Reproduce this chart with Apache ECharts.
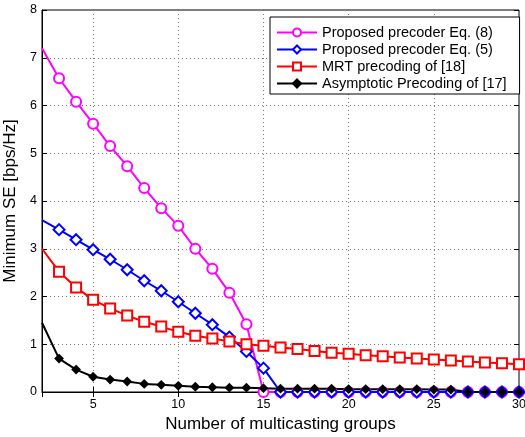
<!DOCTYPE html>
<html>
<head>
<meta charset="utf-8">
<script src="https://cdn.jsdelivr.net/npm/echarts@6/dist/echarts.min.js"></script>
<style>
    html, body { margin: 0; padding: 0; background: #fff; }
    #chart { width: 525px; height: 437px; }
</style>
</head>
<body>
<div id="chart"></div>
<script>
    // number of multicasting groups (x = 2..30)
    var groups = [];
    for (var g = 2; g <= 30; g++) groups.push(g);

    // Minimum SE [bps/Hz]
    var eq8 = [7.2, 6.57, 6.08, 5.62, 5.15, 4.73, 4.27, 3.85, 3.48, 3.0, 2.58, 2.08, 1.42, 0,
        0, 0, 0, 0, 0, 0, 0, 0, 0, 0, 0, 0, 0, 0, 0];
    var eq5 = [3.6, 3.4, 3.19, 2.98, 2.78, 2.56, 2.33, 2.12, 1.89, 1.65, 1.41, 1.15, 0.85, 0.5,
        0, 0, 0, 0, 0, 0, 0, 0, 0, 0, 0, 0, 0, 0, 0];
    var mrt = [3.0, 2.52, 2.19, 1.93, 1.75, 1.6, 1.47, 1.37, 1.26, 1.18, 1.12, 1.06, 1.0, 0.97,
        0.93, 0.9, 0.86, 0.82, 0.8, 0.77, 0.75, 0.72, 0.7, 0.68, 0.66, 0.64, 0.62, 0.6, 0.58];
    var asym = [1.45, 0.7, 0.47, 0.32, 0.26, 0.22, 0.17, 0.15, 0.13, 0.11, 0.1, 0.09, 0.09, 0.08,
        0.07, 0.07, 0.07, 0.07, 0.06, 0.06, 0.06, 0.06, 0.06, 0.05, 0.05, 0, 0, 0, 0];

    var names = ['Proposed precoder Eq. (8)', 'Proposed precoder Eq. (5)',
        'MRT precoding of [18]', 'Asymptotic Precoding of [17]'];

    var font = 'Liberation Sans, Arial, sans-serif';

    // first point sits on the left border, marker is clipped there in the original
    function pairs(vals) {
        return vals.map(function (v, i) {
            var p = {value: [groups[i], v]};
            if (i === 0) p.symbol = 'none';
            return p;
        });
    }

    function makeSeries(name, vals, color, symbol, size, filled) {
        return {
            name: name,
            type: 'line',
            data: pairs(vals),
            symbol: symbol,
            symbolSize: size,
            showAllSymbol: true,
            clip: false,
            lineStyle: {color: color, width: 2},
            itemStyle: {color: filled ? color : '#fff', borderColor: color, borderWidth: 2},
            emphasis: {disabled: true},
            animation: false
        };
    }

    var chart = echarts.init(document.getElementById('chart'));

    var tickStyle = {show: true, inside: true, length: 5, lineStyle: {color: '#000'}};

    chart.setOption({
        backgroundColor: '#fff',
        textStyle: {fontFamily: font},
        grid: {
            left: 42, right: 6, top: 10, bottom: 45,
            outerBoundsMode: 'none', containLabel: false,
            show: true, borderColor: '#000', borderWidth: 1
        },
        legend: {
            orient: 'vertical',
            left: 270,
            top: 17,
            padding: [8, 13, 3, 6],
            itemWidth: 40,
            itemHeight: 10,
            itemGap: 2,
            backgroundColor: '#fff',
            borderColor: '#000',
            borderWidth: 1,
            textStyle: {fontFamily: font, fontSize: 14.5, color: '#000'},
            data: names
        },
        xAxis: [{
            type: 'value',
            min: 2,
            max: 30,
            splitNumber: 6,
            name: 'Number of multicasting groups',
            nameLocation: 'middle',
            nameGap: 21,
            nameTextStyle: {fontSize: 17, color: '#000', fontFamily: font},
            axisLine: {show: true, lineStyle: {color: '#000'}},
            axisTick: tickStyle,
            axisLabel: {color: '#000', fontSize: 12.5, showMinLabel: false, margin: 6},
            splitLine: {show: true, lineStyle: {color: '#777', type: [1, 3]}}
        }, {
            type: 'value',
            position: 'top',
            min: 2,
            max: 30,
            splitNumber: 6,
            axisLine: {show: false},
            axisTick: tickStyle,
            axisLabel: {show: false},
            splitLine: {show: false}
        }],
        yAxis: [{
            type: 'value',
            min: 0,
            max: 8,
            interval: 1,
            name: 'Minimum SE [bps/Hz]',
            nameLocation: 'middle',
            nameGap: 22,
            nameTextStyle: {fontSize: 17, color: '#000', fontFamily: font},
            axisLine: {show: true, lineStyle: {color: '#000'}},
            axisTick: tickStyle,
            axisLabel: {color: '#000', fontSize: 12.5, margin: 5},
            splitLine: {show: true, lineStyle: {color: '#777', type: [1, 3]}}
        }, {
            type: 'value',
            position: 'right',
            min: 0,
            max: 8,
            interval: 1,
            axisLine: {show: false},
            axisTick: tickStyle,
            axisLabel: {show: false},
            splitLine: {show: false}
        }],
        series: [
            makeSeries(names[0], eq8, '#ff00ff', 'circle', 10, false),
            makeSeries(names[1], eq5, '#0000ff', 'diamond', 11, false),
            makeSeries(names[2], mrt, '#ff0000', 'rect', 10, false),
            makeSeries(names[3], asym, '#000000', 'diamond', 7, true)
        ]
    });
</script>
</body>
</html>
